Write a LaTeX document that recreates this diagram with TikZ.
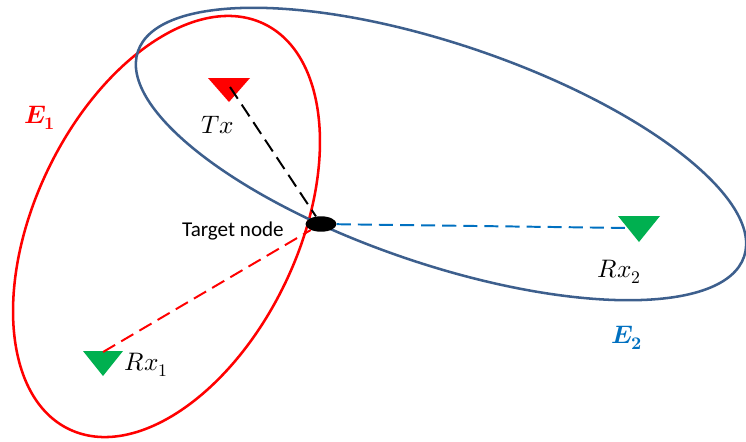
\documentclass[tikz,border=0pt]{standalone}
\usepackage{amsmath}
\usepackage{fontspec}
\usepackage{unicode-math}
\setmathfont{Latin Modern Math}
\newfontfamily\calibri{Carlito}
\usepackage{tikz}
\usetikzlibrary{shapes,positioning,calc}

\definecolor{eonered}{HTML}{FF0000}
\definecolor{etwoblue}{HTML}{3D5F8D}
\definecolor{linkblue}{HTML}{0070C0}
\definecolor{rxgreen}{HTML}{00B050}

\begin{document}
\begin{tikzpicture}[
			x = 0.025cm, y = -0.025cm,
			curve/.style = {line width = 1.8pt},
			link/.style = {line width = 1.4pt, dash pattern = on 10pt off 5pt},
			lbl/.style = {inner sep = 0, anchor = base west, font = \fontsize{18}{21}\selectfont},
			elbl/.style = {inner sep = 0, anchor = base west, font = \fontsize{18}{21}\selectfont}]

			\useasboundingbox (0,0) rectangle (746,442);

			% ellipse E1
			\draw[curve,eonered,rotate around={64.3:(166.5,226.5)}] (166.5,226.5) ellipse [x radius=224.9, y radius=131.5];

			% ellipse E2
			\draw[curve,etwoblue,rotate around={-18.7:(441,154)}] (441,154) ellipse [x radius=320, y radius=110];

			% transmitter and receivers
			\fill[eonered] (208,78) -- (250,78) -- (229,102) -- cycle;
			\coordinate (tx) at (230,87);
			\fill[rxgreen] (83,351) -- (123,351) -- (103,376) -- cycle;
			\coordinate (rx1) at (103,352);
			\fill[rxgreen] (618,216) -- (660,216) -- (639,242) -- cycle;
			\coordinate (rx2) at (630,228);

			\node[ellipse,fill=black,inner sep=0,minimum width=22,minimum height=11] (target) at (321,224) {};

			\draw[link,black] (tx) -- (target);
			\draw[link,eonered] (rx1) -- (target);
			\draw[link,linkblue] (target) -- (rx2);

			\node[inner sep=0,anchor=base east,font=\calibri\fontsize{15}{18}\selectfont] (targetlabel) at (284,236) {Target node};
			\node[lbl] (txlabel) at (201,133) {$Tx$};
			\node[lbl] (rxonelabel) at (124,370) {$Rx_1$};
			\node[lbl] (rxtwolabel) at (597,277) {$Rx_2$};
			\node[elbl,text=eonered] (eonelabel) at (24,123) {$\symbfit{E}_{\symbf{1}}$};
			\node[elbl,text=linkblue] (etwolabel) at (611,343) {$\symbfit{E}_{\symbf{2}}$};

		\end{tikzpicture}
\end{document}
